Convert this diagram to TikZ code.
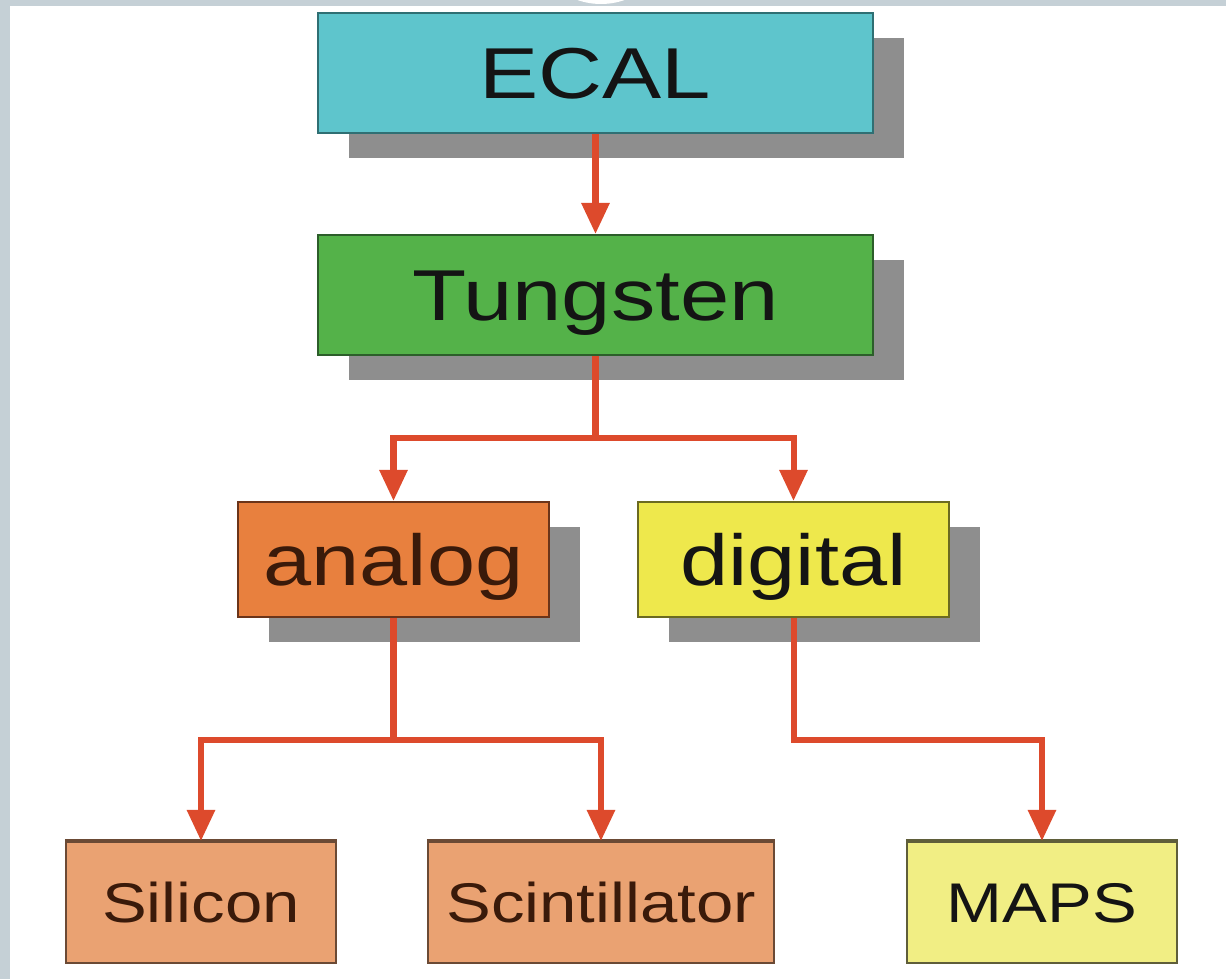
\documentclass[tikz,border=0pt]{standalone}
\usepackage{fontspec}
\setmainfont{Liberation Sans}
\usepackage{graphicx}
\usetikzlibrary{arrows.meta,shadows}
\definecolor{strip}{HTML}{C5D0D6}
\definecolor{shgray}{HTML}{8E8E8E}
\definecolor{arrred}{HTML}{DD4A2C}
\definecolor{txt}{HTML}{141414}
\definecolor{txtbrown}{HTML}{3A1A0A}
\definecolor{ecalfill}{HTML}{5EC5CC}\definecolor{ecaldraw}{HTML}{2F6F73}
\definecolor{tungfill}{HTML}{54B249}\definecolor{tungdraw}{HTML}{2C5E2A}
\definecolor{anafill}{HTML}{E8803E}\definecolor{anadraw}{HTML}{6B3419}
\definecolor{digfill}{HTML}{EEE84C}\definecolor{digdraw}{HTML}{6B6A20}
\definecolor{salfill}{HTML}{EAA272}\definecolor{saldraw}{HTML}{6B4A35}
\definecolor{ylwfill}{HTML}{F1EE84}\definecolor{ylwdraw}{HTML}{5F5E3A}
\begin{document}
\begin{tikzpicture}[x=0.01cm,y=-0.01cm,
  box/.style={draw, line width=0.02cm, inner sep=0pt, text=txt, text depth=0pt},
  bigbox/.style={box, font=\fontsize{20.5}{24}\selectfont, text height=0.515cm},
  smallbox/.style={box, font=\fontsize{15.9}{19}\selectfont, text height=0.40cm},
  shad/.style={drop shadow={shadow xshift=0.31cm, shadow yshift=-0.25cm, fill=shgray, opacity=1}},
  arr/.style={draw=arrred, line width=0.06cm, -{Triangle[length=0.31cm,width=0.27cm]}, fill=none},
  seg/.style={draw=arrred, line width=0.06cm},
  topedge/.style={line width=0.035cm}
]
\useasboundingbox (0,0) rectangle (1226,979);
\fill[white] (0,0) rectangle (1226,979);
\fill[strip] (0,0) rectangle (1226,6);
\fill[strip] (0,0) rectangle (10,979);
\begin{scope}
  \clip (0,0) rectangle (1226,979);
  \fill[white] (601,-67) circle[radius=71];
\end{scope}

\node[bigbox, shad, fill=ecalfill, draw=ecaldraw, minimum width=5.55cm, minimum height=1.20cm] (ecal) at (595.5,73) {\scalebox{1.23}[1]{ECAL}};
\node[bigbox, shad, fill=tungfill, draw=tungdraw, minimum width=5.55cm, minimum height=1.20cm] (tung) at (595.5,295) {\scalebox{1.23}[1]{Tungsten}};
\node[bigbox, shad, fill=anafill, draw=anadraw, text=txtbrown, minimum width=3.11cm, minimum height=1.15cm] (analog) at (393.5,559.5) {\scalebox{1.2}[1]{analog}};
\node[bigbox, shad, fill=digfill, draw=digdraw, minimum width=3.11cm, minimum height=1.15cm] (digital) at (793.5,559.5) {\scalebox{1.2}[1]{digital}};
\node[smallbox, fill=salfill, draw=saldraw, text=txtbrown, minimum width=2.70cm, minimum height=1.21cm] (silicon) at (201,902.5) {\scalebox{1.2}[1]{Silicon}\hspace{0.17cm}};
\node[smallbox, fill=salfill, draw=saldraw, text=txtbrown, minimum width=3.46cm, minimum height=1.21cm] (scint) at (601,902.5) {\scalebox{1.2}[1]{Scintillator}};
\node[smallbox, fill=ylwfill, draw=ylwdraw, minimum width=2.70cm, minimum height=1.21cm] (maps) at (1042,902.5) {\scalebox{1.2}[1]{MAPS}\hspace{0.2cm}};
\draw[topedge, saldraw] (silicon.north west) -- (silicon.north east);
\draw[topedge, saldraw] (scint.north west) -- (scint.north east);
\draw[topedge, ylwdraw] (maps.north west) -- (maps.north east);

\coordinate (j1) at (595.5,438);
\coordinate (j2) at (393.5,740);
\coordinate (j3) at (793.5,740);

\draw[arr] (ecal.south) -- (tung.north);
\draw[seg] (tung.south) -- (j1);
\draw[arr] (j1) -| (analog.north);
\draw[arr] (j1) -| (digital.north);
\draw[seg] (analog.south) -- (j2);
\draw[arr] (j2) -| (silicon.north);
\draw[arr] (j2) -| (scint.north);
\draw[arr] (digital.south) -- (j3) -| (maps.north);
\end{tikzpicture}
\end{document}
